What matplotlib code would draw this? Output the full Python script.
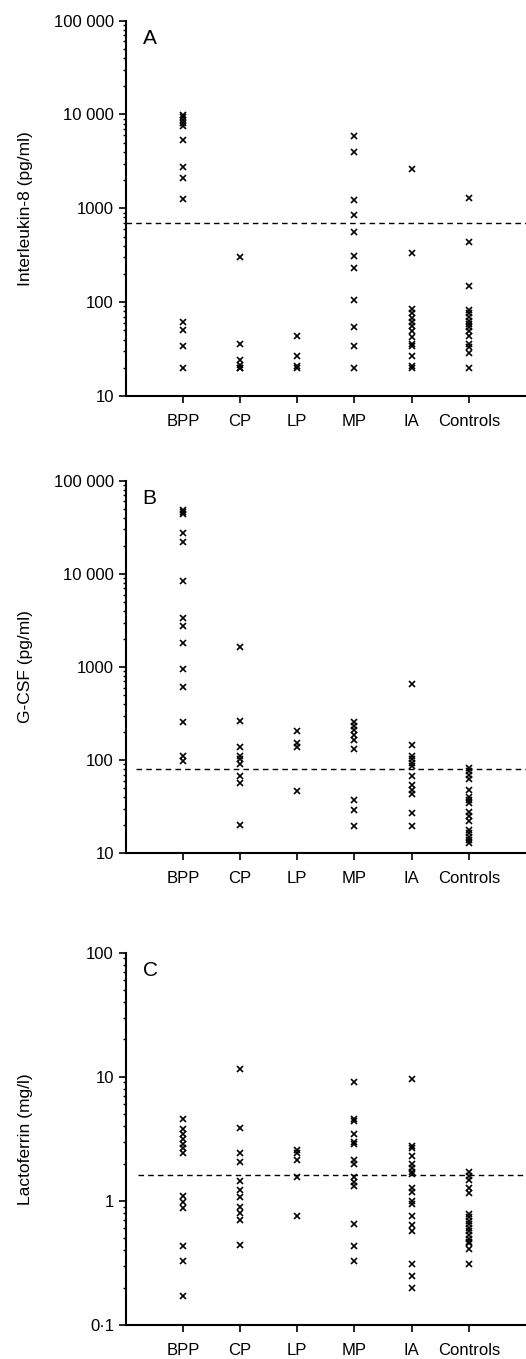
import matplotlib
matplotlib.use("Agg")
import matplotlib.pyplot as plt
from matplotlib.ticker import FixedLocator, FixedFormatter, LogLocator, NullFormatter

plt.rcParams["font.family"] = ["Liberation Sans", "DejaVu Sans"]

groups = ["BPP", "CP", "LP", "MP", "IA", "Controls"]

# Panel A - interleukin-8 (pg/ml)
il8 = {
    "BPP": [9900, 9300, 8700, 8100, 7500, 5350, 2760, 2090, 1260, 62, 50, 34, 20],
    "CP": [300, 36, 24, 21.5, 20, 20],
    "LP": [44, 27, 21, 20],
    "MP": [5940, 4030, 1240, 850, 560, 312, 232, 105, 55, 34, 20],
    "IA": [2650, 331, 85, 77, 68, 61, 56, 49, 43, 36, 34, 27, 21, 20],
    "Controls": [1280, 442, 150, 83, 76, 70, 63, 59, 55, 49, 44, 36, 33, 29, 20],
}
il8_cutoff = 700

# Panel B - G-CSF (pg/ml)
gcsf = {
    "BPP": [48500, 45800, 44000, 27500, 21700, 8340, 3380, 2770, 1820, 950, 615, 255, 110, 99],
    "CP": [1625, 264, 137, 110, 102, 92, 67, 57, 20],
    "LP": [205, 153, 137, 47],
    "MP": [258, 231, 210, 185, 164, 133, 37, 29, 19.5],
    "IA": [652, 144, 110, 102, 94, 86, 68, 54, 48, 43, 27, 19.5],
    "Controls": [83, 77, 69, 62, 48, 40, 37, 35, 28, 25, 22, 18, 16.4, 15.1, 14, 13],
}
gcsf_cutoff = 80

# Panel C - lactoferrin (mg/l)
lacto = {
    "BPP": [4.56, 3.77, 3.45, 3.13, 2.87, 2.65, 2.45, 1.10, 0.975, 0.88, 0.43, 0.33, 0.17],
    "CP": [11.5, 3.9, 2.45, 2.04, 1.46, 1.22, 1.07, 0.89, 0.8, 0.7, 0.44],
    "LP": [2.56, 2.45, 2.13, 1.57, 0.76],
    "MP": [9.0, 4.6, 4.4, 3.45, 3.0, 2.87, 2.13, 1.98, 1.57, 1.43, 1.32, 0.65, 0.43, 0.33],
    "IA": [9.6, 2.78, 2.65, 2.3, 2.0, 1.83, 1.72, 1.65, 1.26, 1.19, 1.0, 0.95,
           0.76, 0.64, 0.57, 0.31, 0.25, 0.2],
    "Controls": [1.7, 1.59, 1.47, 1.26, 1.15, 0.79, 0.74, 0.69, 0.65, 0.61, 0.575,
                 0.53, 0.49, 0.47, 0.455, 0.41, 0.31],
}
lacto_cutoff = 1.63

panels = [
    ("A", il8, il8_cutoff, "Interleukin-8 (pg/ml)",
     [10, 100, 1000, 10000, 100000], ["10", "100", "1000", "10 000", "100 000"], 0.0),
    ("B", gcsf, gcsf_cutoff, "G-CSF (pg/ml)",
     [10, 100, 1000, 10000, 100000], ["10", "100", "1000", "10 000", "100 000"], 0.025),
    ("C", lacto, lacto_cutoff, "Lactoferrin (mg/l)",
     [0.1, 1, 10, 100], ["0\u00b71", "1", "10", "100"], 0.03),
]

fig = plt.figure(figsize=(5.26, 13.59), dpi=100)
boxes = [
    [0.239, 0.7086, 0.761, 0.2762],
    [0.239, 0.3721, 0.761, 0.2742],
    [0.239, 0.0250, 0.761, 0.2740],
]

for box, (letter, data, cutoff, ylabel, ticks, labels, xstart) in zip(boxes, panels):
    ax = fig.add_axes(box)
    ax.set_yscale("log")
    for i, g in enumerate(groups):
        vals = data[g]
        ax.plot([i + 1] * len(vals), vals, "x", color="black",
                markersize=4.5, markeredgewidth=1.2, linestyle="None")
    ax.axhline(cutoff, xmin=xstart, xmax=1, color="black", linestyle=(0, (4, 3)), linewidth=1)

    ax.set_xlim(0, 7)
    ax.set_ylim(ticks[0], ticks[-1])
    ax.set_xticks(range(1, 7))
    ax.set_xticklabels(groups, fontsize=12)
    ax.yaxis.set_major_locator(FixedLocator(ticks))
    ax.yaxis.set_major_formatter(FixedFormatter(labels))
    ax.yaxis.set_minor_locator(LogLocator(base=10, subs=range(2, 10)))
    ax.yaxis.set_minor_formatter(NullFormatter())
    ax.tick_params(axis="y", which="major", labelsize=12, length=5, width=1.2)
    ax.tick_params(axis="y", which="minor", length=2.5, width=1.0)
    ax.tick_params(axis="x", length=5, width=1.2, pad=8)
    ax.set_ylabel(ylabel, fontsize=12.5)
    ax.yaxis.set_label_coords(-0.232, 0.5)

    for side in ["top", "right"]:
        ax.spines[side].set_visible(False)
    for side in ["left", "bottom"]:
        ax.spines[side].set_linewidth(1.5)

    ax.text(0.042, 0.978, letter, transform=ax.transAxes, fontsize=15,
            ha="left", va="top")

fig.savefig("out.png", dpi=100)
